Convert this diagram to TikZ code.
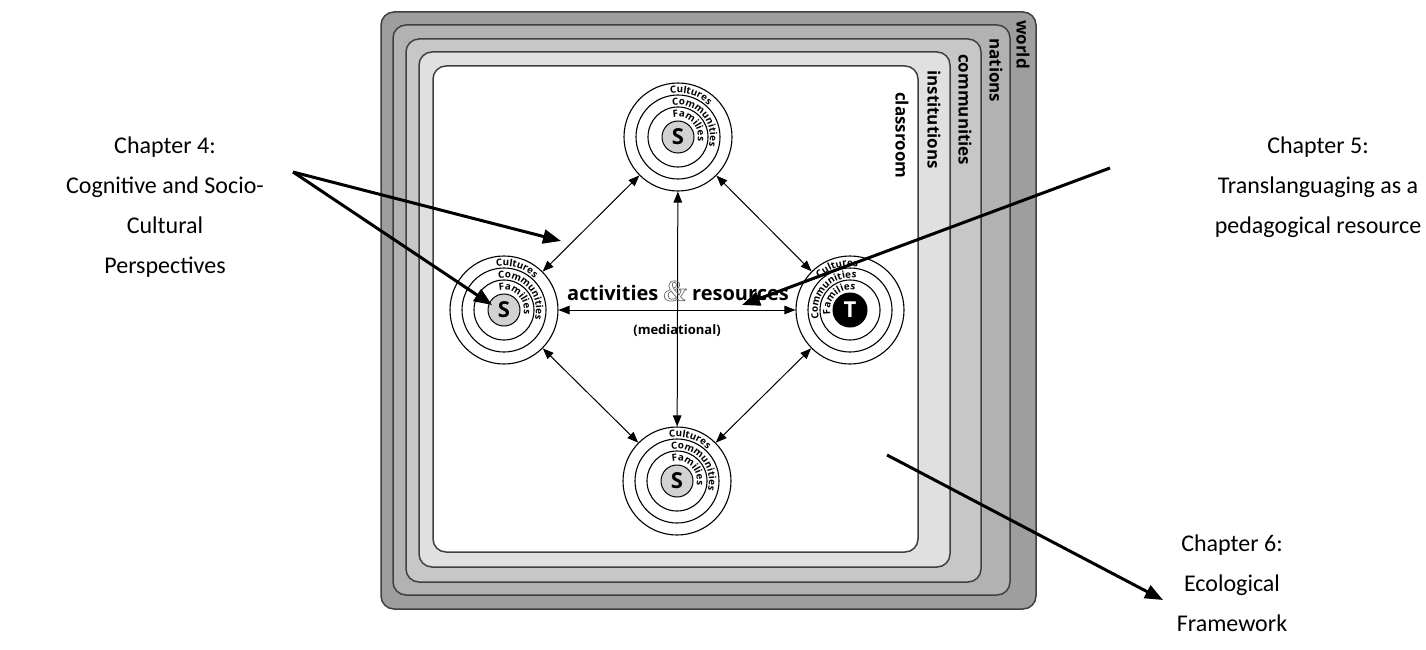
\documentclass[tikz,border=0pt]{standalone}
\usepackage{fontspec}
\setmainfont{Carlito}
\newfontfamily\diafont{Open Sans}
\newfontfamily\ampfont{Liberation Serif}
\usetikzlibrary{arrows.meta,decorations.text}
\newcommand\ringfont{\diafont\fontsize{9.8}{10}\selectfont\bfseries}
\newcommand\outlineamp{{\color{gray!80!black}\special{pdf:literal direct 1 Tr 0.7 w}\ampfont\fontsize{30}{30}\selectfont\itshape\&\special{pdf:literal direct 0 Tr}}}
\definecolor{cworld}{gray}{0.62}
\definecolor{cnation}{gray}{0.70}
\definecolor{ccomm}{gray}{0.78}
\definecolor{cinst}{gray}{0.88}
\definecolor{cedge}{gray}{0.25}
\newcommand\ringtext[5]{%
  \path[decorate,decoration={text along path,text={|\ringfont|#5}}]
    (#1.center) ++(#3:#2) arc[start angle=#3,end angle=#4,radius=#2];}
\newcommand\rings[1]{%
  \draw[ringline] (#1.center) circle[radius=42];
  \draw[ringline] (#1.center) circle[radius=30];}
\begin{document}
\begin{tikzpicture}[x=1pt,y=1pt,
  box/.style={draw=cedge,line width=1.5pt,rounded corners=13pt},
  lbl/.style={font=\diafont\fontsize{17}{19}\selectfont\bfseries,rotate=-90,anchor=west,inner sep=0pt},
  person/.style={circle,draw,line width=1.1pt,minimum size=108pt,inner sep=0pt,fill=white},
  ringline/.style={line width=1.1pt},
  sdisc/.style={circle,draw,line width=1pt,fill=gray!35,minimum size=32pt,inner sep=0pt,font=\diafont\fontsize{22}{22}\selectfont\bfseries},
  tdisc/.style={circle,draw,line width=1pt,fill=black,text=white,minimum size=34pt,inner sep=0pt,font=\diafont\fontsize{22}{22}\selectfont\bfseries},
  link/.style={line width=1pt,{Triangle[length=11pt,width=8.5pt]}-{Triangle[length=11pt,width=8.5pt]}},
  bigarrow/.style={line width=3pt,-{Triangle[length=18pt,width=14pt]}},
  chap/.style={font=\fontsize{24}{40}\selectfont,align=center,anchor=north}]
\useasboundingbox (0,0) rectangle (1426,-650);
% nested boxes
\draw[box,fill=cworld] (381,-12) rectangle (1036,-609);
\draw[box,fill=cnation] (393,-25) rectangle (1010,-595);
\draw[box,fill=ccomm] (406,-39) rectangle (981,-582);
\draw[box,fill=cinst] (419,-52) rectangle (950,-567);
\draw[box,fill=white] (433,-66) rectangle (918,-552);
\node[lbl] (lw) at (1023,-20) {world};
\node[lbl] (ln) at (996,-38) {nations};
\node[lbl] (lc) at (965,-54) {communities};
\node[lbl] (li) at (934,-70) {institutions};
\node[lbl] (lcl) at (902,-92) {classroom};
% persons
\node[person] (ST) at (678,-137) {};
\node[person] (SL) at (504,-310) {};
\node[person] (TR) at (850,-310) {};
\node[person] (SB) at (677,-481) {};
\rings{ST}\rings{SL}\rings{TR}\rings{SB}
\node[sdisc] (dT) at (ST) {S};
\node[sdisc] (dL) at (SL) {S};
\node[sdisc] (dB) at (SB) {S};
\node[tdisc] (dR) at (TR) {T};
\foreach \n in {ST,SL,SB}{
  \ringtext{\n}{44}{100}{-60}{Cultures}
  \ringtext{\n}{32}{100}{-80}{Communities}
  \ringtext{\n}{20}{104}{-90}{Families}
}
\ringtext{TR}{44}{134}{-30}{Cultures}
\ringtext{TR}{32}{196}{20}{Communities}
\ringtext{TR}{20}{192}{0}{Families}
% links
\draw[link] (SL) -- (ST);
\draw[link] (ST) -- (TR);
\draw[link] (TR) -- (SB);
\draw[link] (SB) -- (SL);
\draw[link] (ST) -- (SB);
\draw[link] (SL) -- (TR);
\node (act) at (678,-291) {\diafont\fontsize{20}{20}\selectfont\bfseries activities \outlineamp{} resources};
\node (med) at (677,-331) {\diafont\fontsize{13}{13}\selectfont\bfseries (mediational)};
% chapter labels
\node[chap] (c4t) at (165,-133) {Chapter 4:\\Cognitive and Socio-\\Cultural\\Perspectives};
\node[chap] (c5t) at (1318,-133) {Chapter 5:\\Translanguaging as a\\pedagogical resource};
\node[chap] (c6t) at (1232,-531) {Chapter 6:\\Ecological\\Framework};
\coordinate (c4) at (293,-172);
\coordinate (tA) at (561,-241);
\coordinate (tB) at (492,-305);
\coordinate (c5) at (1110,-168);
\coordinate (t5) at (742,-305);
\coordinate (c6) at (887,-455);
\coordinate (t6) at (1163,-600);
\draw[bigarrow] (c4) -- (tA);
\draw[bigarrow] (c4) -- (tB);
\draw[bigarrow] (c5) -- (t5);
\draw[bigarrow] (c6) -- (t6);
\end{tikzpicture}
\end{document}
